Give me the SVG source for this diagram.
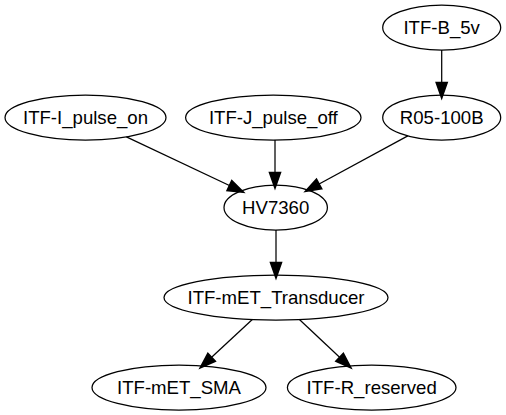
<svg xmlns="http://www.w3.org/2000/svg" width="506" height="415" viewBox="0 0 506 415">
<style>
.node ellipse{fill:none;stroke:#000;stroke-width:1.25}
.node text{font-family:"Liberation Sans",Arial,sans-serif;font-size:18.6px;text-anchor:middle;fill:#000}
.edge{fill:none;stroke:#000;stroke-width:1.25}
</style>
<defs>
<marker id="arr" markerUnits="userSpaceOnUse" orient="auto" refX="0" refY="0" markerWidth="20" markerHeight="20" viewBox="-2 -6 16 12" overflow="visible">
<path d="M0,-4.4 L12.5,0 L0,4.4 Z" fill="#000" stroke="#000" stroke-width="1.25"/>
</marker>
</defs>
<rect width="506" height="415" fill="#fff"/>
<g id="connectors">
<path class="edge" d="M441.7,50 L441.7,82.5" marker-end="url(#arr)"/>
<path class="edge" d="M126.4,136.9 L229.4,185.55" marker-end="url(#arr)"/>
<path class="edge" d="M275,140 L275,172.5" marker-end="url(#arr)"/>
<path class="edge" d="M407.8,135.9 L319.1,184" marker-end="url(#arr)"/>
<path class="edge" d="M276,230 L276,262.5" marker-end="url(#arr)"/>
<path class="edge" d="M252.3,319.5 L211.6,357.3" marker-end="url(#arr)"/>
<path class="edge" d="M299.4,319.5 L339.6,357.3" marker-end="url(#arr)"/>
</g>
<g id="ITF-B_5v" class="node"><ellipse cx="441.7" cy="27.5" rx="59" ry="22.5"/><text x="441.7" y="33.5">ITF-B_5v</text></g>
<g id="ITF-I_pulse_on" class="node"><ellipse cx="85.5" cy="117.5" rx="80.5" ry="22.5"/><text x="85.5" y="123.5">ITF-I_pulse_on</text></g>
<g id="ITF-J_pulse_off" class="node"><ellipse cx="273.3" cy="117.5" rx="87.7" ry="22.5"/><text x="273.3" y="123.5">ITF-J_pulse_off</text></g>
<g id="R05-100B" class="node"><ellipse cx="441.7" cy="117.5" rx="59" ry="22.5"/><text x="441.7" y="123.5">R05-100B</text></g>
<g id="HV7360" class="node"><ellipse cx="275.7" cy="207.5" rx="51.7" ry="22.5"/><text x="275.7" y="213.5">HV7360</text></g>
<g id="ITF-mET_Transducer" class="node"><ellipse cx="276" cy="297.5" rx="112" ry="22.5"/><text x="276" y="303.5">ITF-mET_Transducer</text></g>
<g id="ITF-mET_SMA" class="node"><ellipse cx="179" cy="387.5" rx="87" ry="22.5"/><text x="179" y="393.5">ITF-mET_SMA</text></g>
<g id="ITF-R_reserved" class="node"><ellipse cx="371.7" cy="387.5" rx="84.3" ry="22.5"/><text x="371.7" y="393.5">ITF-R_reserved</text></g>
</svg>
